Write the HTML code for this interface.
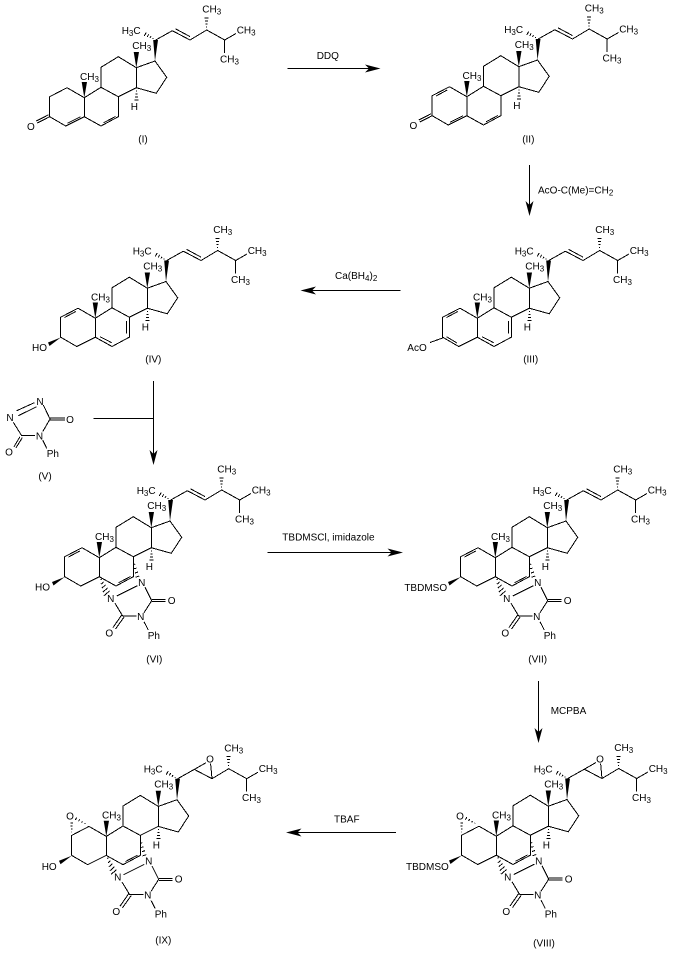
<!DOCTYPE html>
<html>
<head>
<meta charset="utf-8">
<style>
html,body{margin:0;padding:0;background:#fff}
svg{display:block}
text{font-family:"Liberation Sans",Arial,sans-serif;font-size:10px;fill:#000}
.s{font-size:8px}
.m{text-anchor:middle}
.b{stroke:#000;stroke-width:1;fill:none;shape-rendering:crispEdges}
.f{fill:#000;stroke:none}
</style>
</head>
<body>
<svg xmlns="http://www.w3.org/2000/svg" width="673" height="960" viewBox="0 0 673 960">
<defs>
<g id="core">
<path class="b" d="M84.3 97.7L101 87.3L101 67.3L118.3 56.7L136.3 67.7L136.3 87.7L118.3 96.7L101 87.3M136.3 67.7L155 61L166.7 77.3L156.3 93.3L136.3 87.7M84.3 97.7L84.3 116.7L65.7 126L49.7 116.7L49.7 96.7L67 87.7L84.3 97.7M84.3 116.7L101 126L118.3 116.7L118.3 96.7M155.7 40L172.3 30.7M190 40L206.7 30L224.7 40L236 33.5M224.7 40L224.7 53"/>
<polygon class="f" points="136.3,67.7 133.7,52 139,52"/>
<polygon class="f" points="84.3,97.7 81.7,82 87,82"/>
<polygon class="f" points="155,61 153.2,40 158,40"/>
<path class="b" d="M135.8 91H136.8M135.3 94H137.3M134.8 97H137.8M134.3 100H138.3M206.2 27H207.2M205.7 24H207.7M205.2 21H208.2M204.7 18H208.7M152.9 38.9L153.3 38.1M150 38L151 36.2M147.2 36.9L148.7 34.3M144.3 35.9L146.3 32.3"/>
</g>
<path id="chain" class="b" d="M172.3 30.7L190 40M175.5 28.8L190 36.6"/>
<g id="epoxchain"><path class="b" d="M172.3 30.7L190 40M172.3 30.7L184 24M190 40L188.6 25"/></g>
<path id="d12" class="b" d="M53.5 97L64.8 91"/>
<path id="d45" class="b" d="M67.5 123.3L80.5 116.7"/>
<path id="d67" class="b" d="M103.5 122.8L115.5 116.5"/>
<path id="d56" class="b" d="M89 116.2L100.7 122.2"/>
<path id="d78" class="b" d="M115.7 100.5V113"/>
<path id="d34" class="b" d="M53.5 116.2L64 122.5"/>
<path id="co3" class="b" d="M49.7 116.7L37.3 123M48.5 114.8L36.3 121"/>
<polygon id="wO" class="f" points="49.7,117 37,122 38.5,125.5"/>
<g id="adduct">
<path class="b" d="M122.3 125.7L101.7 136M130 127.3L136.7 140.7M137 139.7H150.7M137 141.7H150.7M136.7 140.7L129 152.7M121.7 156H107.7M107.7 156L100 143.3M106.7 155L98 167.5M109.2 156.8L100.5 169M129 161.7L133.3 170"/>
<path class="b" d="M118.8 100L118 100.3M120.3 104L118.6 104.6M121.6 108L119.2 108.8M123 112L120 113M124.3 116L120.6 117.2M86.5 119L85.5 120M88.5 122L86 124.2M90.5 125L86.8 128.2M92.5 128L87.8 132.2M94.5 131L89 135.7"/>
</g>
<g id="epoxA">
<path class="b" d="M49.3 93.5H50.1M49 90.5H50.4M48.7 87.5H50.7M48.3 84.5H51M63.2 84.4L62.7 85.2M60.4 82.5L59.6 83.9M57.6 80.6L56.6 82.6M54.8 78.7L53.4 81.2"/>
</g>
</defs>

<!-- I -->
<g transform="translate(0,0)">
<use href="#core"/><use href="#chain"/><use href="#d45"/><use href="#d67"/><use href="#co3"/>
<text x="27" y="130">O</text>
<text x="202.3" y="12.7">CH<tspan class="s" dy="2">3</tspan></text>
<text x="236.7" y="33.3">CH<tspan class="s" dy="2">3</tspan></text>
<text x="220" y="62.3">CH<tspan class="s" dy="2">3</tspan></text>
<text x="121.7" y="34">H<tspan class="s" dy="2">3</tspan><tspan dy="-2">C</tspan></text>
<text x="132.3" y="49">CH<tspan class="s" dy="2">3</tspan></text>
<text x="80" y="80">CH<tspan class="s" dy="2">3</tspan></text>
<text x="130.7" y="110">H</text>
</g>
<text class="m" x="143" y="142.7">(I)</text>

<!-- II -->
<g transform="translate(382.5,-1)">
<use href="#core"/><use href="#chain"/><use href="#d12"/><use href="#d45"/><use href="#d67"/><use href="#co3"/>
<text x="27" y="130">O</text>
<text x="202.3" y="12.7">CH<tspan class="s" dy="2">3</tspan></text>
<text x="236.7" y="33.3">CH<tspan class="s" dy="2">3</tspan></text>
<text x="220" y="62.3">CH<tspan class="s" dy="2">3</tspan></text>
<text x="121.7" y="34">H<tspan class="s" dy="2">3</tspan><tspan dy="-2">C</tspan></text>
<text x="132.3" y="49">CH<tspan class="s" dy="2">3</tspan></text>
<text x="80" y="80">CH<tspan class="s" dy="2">3</tspan></text>
<text x="130.7" y="110">H</text>
</g>
<text class="m" x="528.3" y="142.3">(II)</text>

<!-- III -->
<g transform="translate(393,220.5)">
<use href="#core"/><use href="#chain"/><use href="#d12"/><use href="#d34"/><use href="#d56"/><use href="#d78"/>
<path class="b" d="M49.7 117.5L37 122"/>
<text x="14.3" y="130.5">AcO</text>
<text x="202.3" y="12.7">CH<tspan class="s" dy="2">3</tspan></text>
<text x="236.7" y="33.3">CH<tspan class="s" dy="2">3</tspan></text>
<text x="220" y="62.3">CH<tspan class="s" dy="2">3</tspan></text>
<text x="121.7" y="34">H<tspan class="s" dy="2">3</tspan><tspan dy="-2">C</tspan></text>
<text x="132.3" y="49">CH<tspan class="s" dy="2">3</tspan></text>
<text x="80" y="80">CH<tspan class="s" dy="2">3</tspan></text>
<text x="130.7" y="110">H</text>
</g>
<text class="m" x="530.7" y="362.3">(III)</text>

<!-- IV -->
<g transform="translate(11,220.5)">
<use href="#core"/><use href="#chain"/><use href="#d12"/><use href="#d56"/><use href="#d78"/><use href="#wO"/>
<text x="21" y="130.5">HO</text>
<text x="202.3" y="12.7">CH<tspan class="s" dy="2">3</tspan></text>
<text x="236.7" y="33.3">CH<tspan class="s" dy="2">3</tspan></text>
<text x="220" y="62.3">CH<tspan class="s" dy="2">3</tspan></text>
<text x="121.7" y="34">H<tspan class="s" dy="2">3</tspan><tspan dy="-2">C</tspan></text>
<text x="132.3" y="49">CH<tspan class="s" dy="2">3</tspan></text>
<text x="80" y="80">CH<tspan class="s" dy="2">3</tspan></text>
<text x="130.7" y="110">H</text>
</g>
<text class="m" x="153.3" y="362.3">(IV)</text>

<!-- V -->
<path class="b" d="M34.3 402.7L16.7 410.7M36.7 406.7L18.3 415.7M43.3 405L50 419M50 418H65M50 420H65M50 419L42.7 431.7M35 435.7H21.7M21.7 435.7L13.3 422.3M20 436.7L14 446.7M22.3 437.7L16 447.7M42.7 440L46.7 448.3"/>
<text class="m" x="40" y="405">N</text>
<text class="m" x="10" y="421">N</text>
<text class="m" x="39.5" y="439.5">N</text>
<text class="m" x="70" y="423">O</text>
<text class="m" x="9" y="455.5">O</text>
<text x="46.7" y="457">Ph</text>
<text class="m" x="45" y="479.3">(V)</text>

<!-- VI -->
<g transform="translate(15,460)">
<use href="#core"/><use href="#chain"/><use href="#d12"/><use href="#d67"/><use href="#wO"/><use href="#adduct"/>
<text x="20" y="130.7">HO</text>
<text class="m" x="126.7" y="126">N</text>
<text class="m" x="95.7" y="142">N</text>
<text class="m" x="125.7" y="160">N</text>
<text class="m" x="156.7" y="144">O</text>
<text class="m" x="94.3" y="176.5">O</text>
<text x="132.7" y="179">Ph</text>
<text x="202.3" y="12.7">CH<tspan class="s" dy="2">3</tspan></text>
<text x="236.7" y="33.3">CH<tspan class="s" dy="2">3</tspan></text>
<text x="220" y="62.3">CH<tspan class="s" dy="2">3</tspan></text>
<text x="121.7" y="34">H<tspan class="s" dy="2">3</tspan><tspan dy="-2">C</tspan></text>
<text x="132.3" y="49">CH<tspan class="s" dy="2">3</tspan></text>
<text x="80" y="80">CH<tspan class="s" dy="2">3</tspan></text>
<text x="130.7" y="110">H</text>
</g>
<text class="m" x="154.3" y="662.3">(VI)</text>

<!-- VII -->
<g transform="translate(411,460)">
<use href="#core"/><use href="#chain"/><use href="#d12"/><use href="#d67"/><use href="#wO"/><use href="#adduct"/>
<text x="-6.7" y="131">TBDMSO</text>
<text class="m" x="126.7" y="126">N</text>
<text class="m" x="95.7" y="142">N</text>
<text class="m" x="125.7" y="160">N</text>
<text class="m" x="156.7" y="144">O</text>
<text class="m" x="94.3" y="176.5">O</text>
<text x="132.7" y="179">Ph</text>
<text x="202.3" y="12.7">CH<tspan class="s" dy="2">3</tspan></text>
<text x="236.7" y="33.3">CH<tspan class="s" dy="2">3</tspan></text>
<text x="220" y="62.3">CH<tspan class="s" dy="2">3</tspan></text>
<text x="121.7" y="34">H<tspan class="s" dy="2">3</tspan><tspan dy="-2">C</tspan></text>
<text x="132.3" y="49">CH<tspan class="s" dy="2">3</tspan></text>
<text x="80" y="80">CH<tspan class="s" dy="2">3</tspan></text>
<text x="130.7" y="110">H</text>
</g>
<text class="m" x="537.7" y="662.3">(VII)</text>

<!-- VIII -->
<g transform="translate(412,738.5)">
<use href="#core"/><use href="#epoxchain"/><use href="#d67"/><use href="#wO"/><use href="#adduct"/><use href="#epoxA"/>
<text x="-6" y="131.5">TBDMSO</text>
<text class="m" x="188" y="24">O</text>
<text class="m" x="48" y="81">O</text>
<text class="m" x="126.7" y="126">N</text>
<text class="m" x="95.7" y="142">N</text>
<text class="m" x="125.7" y="160">N</text>
<text class="m" x="156.7" y="144">O</text>
<text class="m" x="94.3" y="176.5">O</text>
<text x="132.7" y="179">Ph</text>
<text x="202.3" y="12.7">CH<tspan class="s" dy="2">3</tspan></text>
<text x="236.7" y="33.3">CH<tspan class="s" dy="2">3</tspan></text>
<text x="220" y="62.3">CH<tspan class="s" dy="2">3</tspan></text>
<text x="121.7" y="34">H<tspan class="s" dy="2">3</tspan><tspan dy="-2">C</tspan></text>
<text x="132.3" y="49">CH<tspan class="s" dy="2">3</tspan></text>
<text x="80" y="80">CH<tspan class="s" dy="2">3</tspan></text>
<text x="130.7" y="110">H</text>
</g>
<text class="m" x="544" y="946.7">(VIII)</text>

<!-- IX -->
<g transform="translate(22,738.7)">
<use href="#core"/><use href="#epoxchain"/><use href="#d67"/><use href="#wO"/><use href="#adduct"/><use href="#epoxA"/>
<text x="19.7" y="131.3">HO</text>
<text class="m" x="188" y="24">O</text>
<text class="m" x="48" y="81">O</text>
<text class="m" x="126.7" y="126">N</text>
<text class="m" x="95.7" y="142">N</text>
<text class="m" x="125.7" y="160">N</text>
<text class="m" x="156.7" y="144">O</text>
<text class="m" x="94.3" y="176.5">O</text>
<text x="132.7" y="179">Ph</text>
<text x="202.3" y="12.7">CH<tspan class="s" dy="2">3</tspan></text>
<text x="236.7" y="33.3">CH<tspan class="s" dy="2">3</tspan></text>
<text x="220" y="62.3">CH<tspan class="s" dy="2">3</tspan></text>
<text x="121.7" y="34">H<tspan class="s" dy="2">3</tspan><tspan dy="-2">C</tspan></text>
<text x="132.3" y="49">CH<tspan class="s" dy="2">3</tspan></text>
<text x="80" y="80">CH<tspan class="s" dy="2">3</tspan></text>
<text x="130.7" y="110">H</text>
</g>
<text class="m" x="163.3" y="943.3">(IX)</text>

<!-- arrows -->
<path class="b" d="M287.7 68.5H376"/>
<polygon class="f" points="380.5,68.5 365,64.5 369,68.5 365,72.5"/>
<text x="316.7" y="59">DDQ</text>

<path class="b" d="M529.5 165V212"/>
<polygon class="f" points="529.5,216 525.5,201 529.5,205 533.5,201"/>
<text x="538" y="193.5">AcO-C(Me)=CH<tspan class="s" dy="2">2</tspan></text>

<path class="b" d="M305 290.5H400.7"/>
<polygon class="f" points="300.5,290.5 316,286.5 312,290.5 316,294.5"/>
<text x="335" y="279">Ca(BH<tspan class="s" dy="2">4</tspan><tspan dy="-2">)</tspan><tspan class="s" dy="2">2</tspan></text>

<path class="b" d="M153.5 381V461M93.3 418.5H153.5"/>
<polygon class="f" points="153.5,465 149.5,450 153.5,454 157.5,450"/>

<path class="b" d="M267.3 552.5H399"/>
<polygon class="f" points="403,552.5 387.5,548.5 391.5,552.5 387.5,556.5"/>
<text x="282.3" y="540.7">TBDMSCl, imidazole</text>

<path class="b" d="M538.5 681V739"/>
<polygon class="f" points="538.5,743 534.5,728 538.5,732 542.5,728"/>
<text x="550.7" y="714">MCPBA</text>

<path class="b" d="M290 832.5H396"/>
<polygon class="f" points="286,832.5 301.5,828.5 297.5,832.5 301.5,836.5"/>
<text x="334" y="822.3">TBAF</text>
</svg>
</body>
</html>
